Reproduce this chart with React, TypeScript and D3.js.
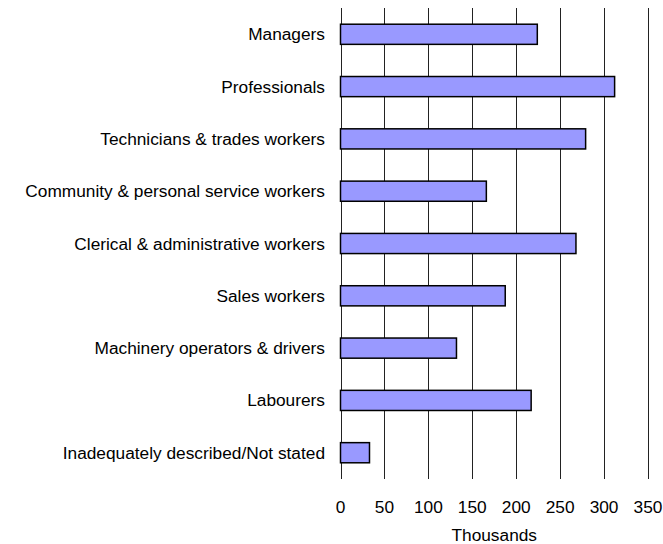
import React from "react";
import * as d3 from "d3";

const categories = [
  "Managers",
  "Professionals",
  "Technicians & trades workers",
  "Community & personal service workers",
  "Clerical & administrative workers",
  "Sales workers",
  "Machinery operators & drivers",
  "Labourers",
  "Inadequately described/Not stated",
];
const values = [224, 312, 279, 166, 268, 187.5, 132, 217, 33];
const ticks = [0, 50, 100, 150, 200, 250, 300, 350];
const axisTitle = "Thousands";

const W = 663;
const H = 544;
const left = 340.5;
const right = 648;
const top = 8;
const bottom = 479;

export default function App() {
  const x = d3.scaleLinear().domain([0, 350]).range([left, right]);
  const y = d3.scaleBand<string>().domain(categories).range([top, bottom]).paddingInner(0.615).paddingOuter(0.31);
  const font = "'Liberation Sans', Arial, sans-serif";
  return (
    <svg width={W} height={H} style={{ position: "absolute", left: 0, top: 0, background: "#fff" }} fontFamily={font}>
      {ticks.map((t) => (
        <line key={t} x1={Math.round(x(t)) + 0.5} x2={Math.round(x(t)) + 0.5} y1={top} y2={bottom} stroke="#222" strokeWidth={1} />
      ))}
      {categories.map((c, i) => (
        <g key={c}>
          <rect
            x={x(0)}
            y={y(c)!}
            width={x(values[i]) - x(0)}
            height={y.bandwidth()}
            fill="#9999FF"
            stroke="#000"
            strokeWidth={1.5}
          />
          <text x={325} y={y(c)! + y.bandwidth() / 2} textAnchor="end" dominantBaseline="central" fontSize={17.3} fill="#000">
            {c}
          </text>
        </g>
      ))}
      {ticks.map((t) => (
        <text key={t} x={x(t)} y={507} textAnchor="middle" dominantBaseline="central" fontSize={17.3} fill="#000">
          {t}
        </text>
      ))}
      <text x={x(175)} y={535} textAnchor="middle" dominantBaseline="central" fontSize={17.3} fill="#000">
        {axisTitle}
      </text>
    </svg>
  );
}
